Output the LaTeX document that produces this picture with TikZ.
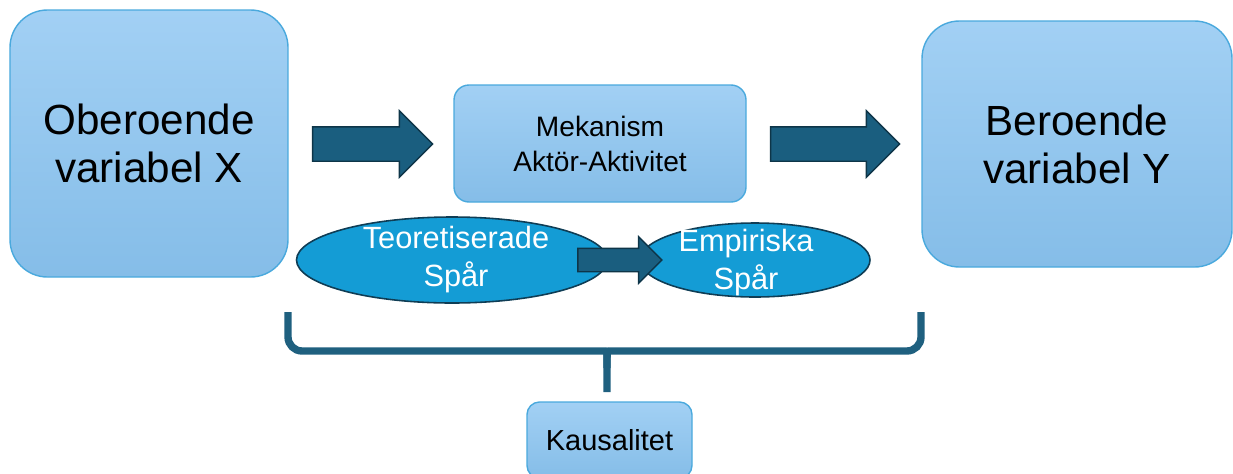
\documentclass[tikz,border=0pt]{standalone}
\usepackage{fontspec}
\setmainfont{Liberation Sans}
\usepackage{tikz}
\usetikzlibrary{arrows.meta,positioning,calc,shapes.geometric,shapes.arrows}
\definecolor{boxtop}{HTML}{A2D0F4}
\definecolor{boxbot}{HTML}{85BDE8}
\definecolor{boxline}{HTML}{4AA9DD}
\definecolor{arrowfill}{HTML}{1A5E7F}
\definecolor{arrowline}{HTML}{0E3548}
\definecolor{ellfill}{HTML}{149CD5}
\definecolor{ellline}{HTML}{0F3D55}
\definecolor{bracecol}{HTML}{1F607F}

\begin{document}
\begin{tikzpicture}[
  varbox/.style={draw=boxline,line width=0.8pt,top color=boxtop,bottom color=boxbot,
    rounded corners=0.75cm,align=center,inner sep=0pt,
    font=\fontsize{24}{27.3}\selectfont},
  smallbox/.style={draw=boxline,line width=0.8pt,top color=boxtop,bottom color=boxbot,
    rounded corners=0.3cm,align=center,inner sep=0pt},
  blockarrow/.style={single arrow,draw=arrowline,fill=arrowfill,line width=0.8pt,
    inner xsep=0pt,inner ysep=0.33cm,single arrow head extend=0.32cm},
  trace/.style={ellipse,draw=ellline,fill=ellfill,line width=0.9pt,inner sep=0pt},
  tracetext/.style={align=center,text=white,font=\fontsize{17.5}{21.6}\selectfont},
  bracket/.style={draw=bracecol,line width=4.2pt,rounded corners=8pt}]
\useasboundingbox (0,0) rectangle (24.66,-9.46);
\node[varbox,minimum width=5.56cm,minimum height=5.34cm] (xvar) at (2.98,-2.87)
  {Oberoende\\variabel X};
\node[varbox,minimum width=6.2cm,minimum height=4.92cm] (yvar) at (21.54,-2.88)
  {Beroende\\variabel Y};
\node[smallbox,minimum width=5.84cm,minimum height=2.34cm,
  font=\fontsize{16}{19.9}\selectfont] (mek) at (12.0,-2.87)
  {Mekanism\\Aktör-Aktivitet};
\node[blockarrow,minimum height=2.4cm] (xmek) at (7.28,-2.88) {};
\node[blockarrow,minimum height=2.58cm] (meky) at (16.53,-2.88) {};
\node[trace,minimum width=6.22cm,minimum height=1.72cm] (teo) at (9.04,-5.2) {};
\node[trace,minimum width=4.6cm,minimum height=1.48cm] (emp) at (15.1,-5.2) {};
\node[tracetext] (teotext) at ($(teo.center)+(0.08,0)$) {Teoretiserade\\Spår};
\node[tracetext] (emptext) at ($(emp.center)+(-0.18,-0.05)$) {Empiriska\\Spår};
\node[blockarrow,minimum height=1.68cm,inner ysep=0.22cm,
  single arrow head extend=0.23cm] (teoemp) at (12.28,-5.2) {};
\coordinate (bl) at (5.76,-6.24);
\coordinate (br) at (18.42,-6.24);
\coordinate (bmid) at (12.14,-7.02);
\coordinate (bs) at (12.14,-7.84);
\draw[bracket] (bl) |- ($(bmid)+(-0.32,0)$) .. controls (bmid) .. ($(bmid)+(0,-0.34)$) -- (bs);
\draw[bracket] (br) |- ($(bmid)+(0.32,0)$) .. controls (bmid) .. ($(bmid)+(0,-0.34)$);
\node[smallbox,rounded corners=0.25cm,minimum width=3.3cm,minimum height=1.52cm,
  font=\fontsize{16.5}{19}\selectfont] (kaus) at (12.19,-8.8) {Kausalitet};
\end{tikzpicture}
\end{document}
